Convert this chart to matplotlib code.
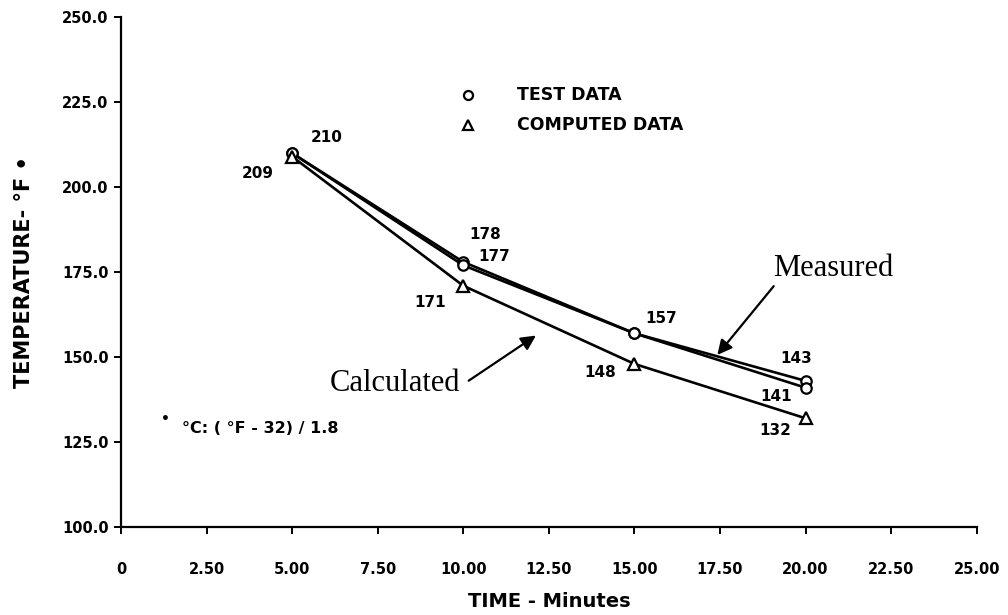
import matplotlib
matplotlib.use("Agg")
import matplotlib.pyplot as plt

# ---- data ----
time = [5.0, 10.0, 15.0, 20.0]
test_a = [210, 178, 157, 143]      # test data (upper trace)
test_b = [210, 177, 157, 141]      # test data (second trace)
computed = [209, 171, 148, 132]    # computed data

x_ticks = [0, 2.5, 5, 7.5, 10, 12.5, 15, 17.5, 20, 22.5, 25]
x_tick_labels = ["0", "2.50", "5.00", "7.50", "10.00", "12.50", "15.00",
                 "17.50", "20.00", "22.50", "25.00"]
y_ticks = [100, 125, 150, 175, 200, 225, 250]
y_tick_labels = ["100.0", "125.0", "150.0", "175.0", "200.0", "225.0", "250.0"]

# label offsets (points) for data labels; None = no label
off_a = [(25, 11.5), (16, 19.5), (19, 11), (-7, 16)]
off_b = [None, (22, 6.5), None, (-21, -6.5)]
off_c = [(-24.5, -12), (-24, -12), (-24.5, -6.5), (-21.5, -8.5)]

fig = plt.figure(figsize=(10.08, 6.15), dpi=100)
ax = fig.add_axes([0.120, 0.143, 0.849, 0.829])

lw = 1.9
mk = dict(markerfacecolor="white", markeredgecolor="black", markeredgewidth=1.6)
ax.plot(time, test_a, color="black", lw=lw, marker="o", markersize=7.5, **mk, zorder=3)
ax.plot(time, test_b, color="black", lw=lw, marker="o", markersize=7.5, **mk, zorder=3)
ax.plot(time, computed, color="black", lw=lw, marker="^", markersize=8.5, **mk, zorder=3)

lab_font = dict(fontsize=11, fontweight="bold", ha="center", va="center")
for series, offs in ((test_a, off_a), (test_b, off_b), (computed, off_c)):
    for t, v, o in zip(time, series, offs):
        if o is None:
            continue
        ax.annotate(f"{v}", xy=(t, v), xytext=o, textcoords="offset points", **lab_font)

ax.set_xlim(0, 25)
ax.set_ylim(100, 250)
ax.set_xticks(x_ticks)
ax.set_xticklabels(x_tick_labels)
ax.set_yticks(y_ticks)
ax.set_yticklabels(y_tick_labels)
for lbl in ax.get_xticklabels() + ax.get_yticklabels():
    lbl.set_fontweight("bold")
    lbl.set_fontsize(10.5)
ax.tick_params(axis="both", direction="out", length=5, width=1.4, colors="black")
ax.tick_params(axis="x", pad=20)
ax.tick_params(axis="y", pad=4)

for s in ("top", "right"):
    ax.spines[s].set_visible(False)
for s in ("left", "bottom"):
    ax.spines[s].set_linewidth(1.6)
    ax.spines[s].set_color("black")

ax.set_xlabel("TIME - Minutes", fontsize=14, fontweight="bold", labelpad=11)
ax.set_ylabel("TEMPERATURE- °F •", fontsize=15, fontweight="bold", labelpad=20)

# legend drawn as text + markers
ax.plot([10.15], [227.1], marker="o", color="black", markersize=6.5, **mk, linestyle="none")
ax.plot([10.15], [218.2], marker="^", color="black", markersize=7.5, **mk, linestyle="none")
ax.text(11.58, 227.1, "TEST DATA", fontsize=12.5, fontweight="bold", va="center", ha="left")
ax.text(11.58, 218.2, "COMPUTED DATA", fontsize=12.5, fontweight="bold", va="center", ha="left")

# footnote
ax.text(1.29, 131.8, "•", fontsize=10, fontweight="bold", ha="center", va="center")
ax.text(1.78, 129.1, "°C: ( °F - 32) / 1.8", fontsize=11.5, fontweight="bold", ha="left", va="center")

# callouts
serif = dict(family="Liberation Serif", fontsize=22)
ax.text(19.06, 176.2, "Measured", ha="left", va="center", **serif)
ax.annotate("", xy=(17.37, 150.0), xytext=(19.12, 171.5),
            arrowprops=dict(arrowstyle="-|>", color="black", lw=1.6, mutation_scale=22))
ax.text(9.91, 142.1, "Calculated", ha="right", va="center", **serif)
ax.annotate("", xy=(12.19, 156.8), xytext=(10.09, 142.6),
            arrowprops=dict(arrowstyle="-|>", color="black", lw=1.6, mutation_scale=22))

fig.savefig("out.png", dpi=100)
